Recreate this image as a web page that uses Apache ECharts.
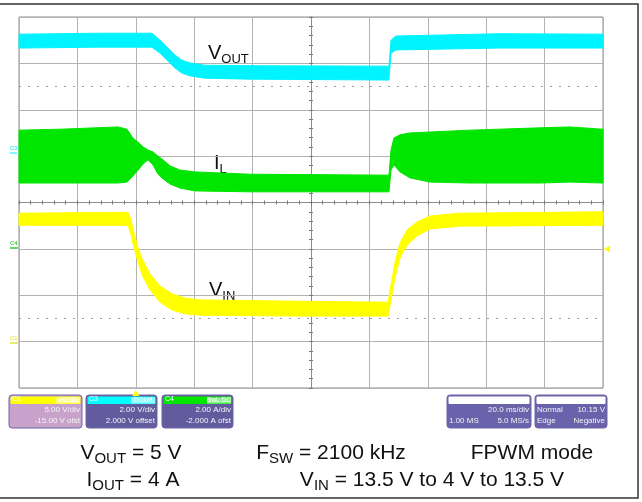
<!DOCTYPE html>
<html>
<head>
<meta charset="utf-8">
<script src="https://cdn.jsdelivr.net/npm/echarts@6/dist/echarts.min.js"></script>
<style>
  html, body { margin: 0; padding: 0; background: #fff; }
  #scope { width: 642px; height: 502px; }
</style>
</head>
<body>
<div id="scope"></div>
<script>
// time in ms from screen centre (20 ms/div), level in divisions from centre
// each row: [t, bottom edge, top edge] of the noisy trace band
const vout = [
  [-100, 3.33, 3.63], [-72.3, 3.35, 3.65], [-54.5, 3.35, 3.65], [-51.7, 3.22, 3.50],
  [-49.3, 3.07, 3.35], [-46.6, 2.90, 3.18], [-44.2, 2.79, 3.07], [-41.4, 2.73, 3.01],
  [-36.3, 2.68, 2.96], [-20.9, 2.66, 2.95], [26.7, 2.64, 2.94], [27.4, 3.22, 3.50],
  [29.1, 3.29, 3.59], [64.7, 3.33, 3.64], [100, 3.33, 3.63],
];
const il = [
  [-100, 0.42, 1.56], [-86.0, 0.42, 1.58], [-66.1, 0.42, 1.63], [-63.0, 0.44, 1.58],
  [-61.0, 0.57, 1.39], [-59.2, 0.70, 1.30], [-57.5, 0.83, 1.20], [-55.8, 0.92, 1.13],
  [-54.1, 0.81, 1.09], [-52.4, 0.61, 1.00], [-50.7, 0.51, 0.92], [-48.3, 0.40, 0.79],
  [-44.9, 0.31, 0.70], [-39.7, 0.25, 0.66], [-20.9, 0.23, 0.61], [26.7, 0.23, 0.59],
  [27.4, 0.70, 1.13], [28.4, 0.81, 1.39], [30.5, 0.66, 1.46], [33.9, 0.53, 1.50],
  [40.8, 0.44, 1.52], [54.5, 0.42, 1.56], [78.4, 0.42, 1.61], [88.7, 0.44, 1.63],
  [100, 0.42, 1.58],
];
const vin = [
  [-100, -0.49, -0.23], [-62.7, -0.49, -0.21], [-61.6, -0.70, -0.38], [-60.6, -0.98, -0.66],
  [-59.2, -1.30, -0.98], [-57.5, -1.61, -1.26], [-55.1, -1.89, -1.54], [-51.7, -2.15, -1.80],
  [-47.6, -2.32, -1.97], [-43.2, -2.40, -2.06], [-38.0, -2.43, -2.10], [-3.8, -2.45, -2.13],
  [26.4, -2.45, -2.15], [27.4, -2.10, -1.78], [28.8, -1.61, -1.28], [30.5, -1.20, -0.87],
  [32.9, -0.92, -0.59], [36.3, -0.72, -0.42], [40.8, -0.57, -0.29], [51.0, -0.51, -0.23],
  [100, -0.49, -0.20],
];
const refLevels = [2.5, -2.5];
const triggerTime = -60;
const triggerLevel = -1;

const FONT = 'Liberation Sans';
const colors = { vout: '#00f4ff', il: '#00e600', vin: '#ffff00' };

const band = (name, data, color) => ({
  name,
  type: 'custom',
  data,
  encode: { x: 0, y: [1, 2] },
  silent: true,
  renderItem: (params, api) => {
    if (params.dataIndex !== 0) return null;
    const top = data.map((d) => api.coord([d[0], d[2]]));
    const bottom = data.map((d) => api.coord([d[0], d[1]])).reverse();
    return {
      type: 'polygon',
      shape: { points: top.concat(bottom) },
      style: { fill: color, stroke: color, lineWidth: 1 },
    };
  },
});

const centreAxis = (extra) => ({
  type: 'value',
  axisLine: { show: true, onZero: true, lineStyle: { color: '#8c8c8c', width: 1 } },
  axisTick: { show: true, length: 2, lineStyle: { color: '#777' } },
  minorTick: { show: true, splitNumber: 5, length: 2, lineStyle: { color: '#777' } },
  axisLabel: { show: false },
  ...extra,
});

const label = (x, y, main, sub, size, subSize) => ({
  type: 'text',
  x, y,
  style: {
    text: `{m|${main}}{s|${sub}}`,
    rich: {
      m: { fontSize: size, fontFamily: FONT, lineHeight: size + 5, fill: '#111' },
      s: { fontSize: subSize, fontFamily: FONT, lineHeight: subSize, verticalAlign: 'bottom', fill: '#111' },
    },
  },
});

const bottomText = (cx, y, main, sub, rest) => ({
  type: 'text',
  x: cx, y,
  style: {
    text: `{m|${main}}{s|${sub}}{m|${rest}}`,
    align: 'center',
    rich: {
      m: { fontSize: 21, fontFamily: FONT, lineHeight: 26, fill: '#111' },
      s: { fontSize: 15, fontFamily: FONT, lineHeight: 15, verticalAlign: 'bottom', fill: '#111' },
    },
  },
});

const infoBox = (x, w, head, body, title, badge, rows) => {
  const children = [
    { type: 'rect', shape: { x, y: 395, width: w, height: 33, r: 3 }, style: { fill: body, stroke: '#6f64a8', lineWidth: 1 } },
    { type: 'rect', shape: { x: x + 1.5, y: 396.5, width: w - 3, height: 7.5, r: 1 }, style: { fill: head } },
  ];
  if (title) {
    children.push({ type: 'text', x: x + 3, y: 396, style: { text: title, fontSize: 7, fontFamily: FONT, fill: '#fff' } });
  }
  if (badge) {
    children.push({ type: 'rect', shape: { x: x + w - 26, y: 397.5, width: 24, height: 6 }, style: { fill: 'rgba(255,255,255,0.55)' } });
    children.push({ type: 'text', x: x + w - 14, y: 397, style: { text: badge, fontSize: 6.5, fontFamily: FONT, fill: '#fff', align: 'center' } });
  }
  rows.forEach((r, i) => {
    const y = 406 + i * 10.5;
    if (r[0]) children.push({ type: 'text', x: x + 2, y, style: { text: r[0], fontSize: 8, fontFamily: FONT, fill: '#f4f4f4' } });
    if (r[1]) children.push({ type: 'text', x: x + w - 2, y, style: { text: r[1], fontSize: 8, fontFamily: FONT, fill: '#f4f4f4', align: 'right' } });
  });
  return { type: 'group', children };
};

const option = {
  animation: false,
  backgroundColor: '#fff',
  grid: {
    left: 19, top: 17, right: 39, bottom: 114,
    show: true, borderColor: '#8c8c8c', borderWidth: 1,
  },
  xAxis: [
    centreAxis({
      min: -100, max: 100, interval: 20, position: 'bottom',
      splitLine: { show: true, lineStyle: { color: '#b3b3b3', width: 1 } },
    }),
    centreAxis({ min: -100, max: 100, interval: 20, position: 'top', splitLine: { show: false } }),
  ],
  yAxis: [
    centreAxis({
      min: -4, max: 4, interval: 1, position: 'left',
      splitLine: { show: true, lineStyle: { color: '#b3b3b3', width: 1 } },
    }),
    centreAxis({ min: -4, max: 4, interval: 1, position: 'right', splitLine: { show: false } }),
  ],
  series: [
    {
      type: 'line',
      data: [],
      silent: true,
      markLine: {
        symbol: 'none',
        silent: true,
        label: { show: false },
        lineStyle: { color: '#9a9a9a', type: [2, 7], width: 1 },
        data: refLevels.map((v) => ({ yAxis: v })),
      },
      markPoint: {
        silent: true,
        label: { show: false },
        data: [
          { coord: [triggerTime, -4], symbol: 'triangle', symbolSize: [7, 6], symbolOffset: [0, 5], itemStyle: { color: colors.vin } },
          { coord: [100, triggerLevel], symbol: 'triangle', symbolSize: [7, 6], symbolRotate: 90, symbolOffset: [4, 0], itemStyle: { color: colors.vin } },
        ],
      },
    },
    band('VOUT', vout, colors.vout),
    band('IL', il, colors.il),
    band('VIN', vin, colors.vin),
  ],
  graphic: [
    // outer frame of the screenshot
    { type: 'rect', shape: { x: -2, y: 4, width: 640, height: 494 }, style: { fill: 'none', stroke: '#333', lineWidth: 1.5 } },
    // probe glitches
    { type: 'line', shape: { x1: 125, y1: 37, x2: 135, y2: 43 }, style: { stroke: 'rgba(255,255,255,0.7)', lineWidth: 1 } },
    { type: 'line', shape: { x1: 122, y1: 129, x2: 135, y2: 155 }, style: { stroke: 'rgba(255,255,255,0.7)', lineWidth: 1 } },
    // channel ground markers
    { type: 'text', x: 10, y: 145, style: { text: 'C3', fontSize: 6, fontFamily: FONT, fill: colors.vout } },
    { type: 'line', shape: { x1: 10, y1: 153, x2: 17, y2: 153 }, style: { stroke: colors.vout, lineWidth: 1 } },
    { type: 'text', x: 10, y: 240, style: { text: 'C4', fontSize: 6, fontFamily: FONT, fill: '#00c000' } },
    { type: 'line', shape: { x1: 10, y1: 248, x2: 18, y2: 248 }, style: { stroke: '#00c000', lineWidth: 1.2 } },
    { type: 'text', x: 10, y: 335, style: { text: 'C1', fontSize: 6, fontFamily: FONT, fill: '#e0e000' } },
    { type: 'line', shape: { x1: 10, y1: 343, x2: 18, y2: 343 }, style: { stroke: '#e0e000', lineWidth: 1.2 } },
    // trace names
    label(208, 41, 'V', 'OUT', 20, 13),
    label(214, 151, 'I', 'L', 20, 13),
    label(209, 278, 'V', 'IN', 20, 13),
    // scope info boxes
    infoBox(9, 73, '#ffff00', '#c9a2cc', 'C1', 'DC1M', [[null, '5.00 V/div'], [null, '-15.00 V ofst']]),
    infoBox(86, 71, '#00ffff', '#625c9e', 'C3', 'DC1M', [[null, '2.00 V/div'], [null, '2.000 V offset']]),
    infoBox(162, 71, '#00e600', '#625c9e', 'C4', 'BwL DC', [[null, '2.00 A/div'], [null, '-2.000 A ofst']]),
    infoBox(447, 84, '#ffffff', '#6a62aa', null, null, [[null, '20.0 ms/div'], ['1.00 MS', '5.0 MS/s']]),
    infoBox(535, 72, '#ffffff', '#6a62aa', null, null, [['Normal', '10.15 V'], ['Edge', 'Negative']]),
    // test conditions
    bottomText(131, 440, 'V', 'OUT', ' = 5 V'),
    bottomText(331, 440, 'F', 'SW', ' = 2100 kHz'),
    { type: 'text', x: 532, y: 440, style: { text: 'FPWM mode', fontSize: 21, fontFamily: FONT, lineHeight: 26, fill: '#111', align: 'center' } },
    bottomText(133, 467, 'I', 'OUT', ' = 4 A'),
    bottomText(432, 467, 'V', 'IN', ' = 13.5 V to 4 V to 13.5 V'),
  ],
};

const chart = echarts.init(document.getElementById('scope'), null, { renderer: 'canvas' });
chart.setOption(option);
</script>
</body>
</html>
